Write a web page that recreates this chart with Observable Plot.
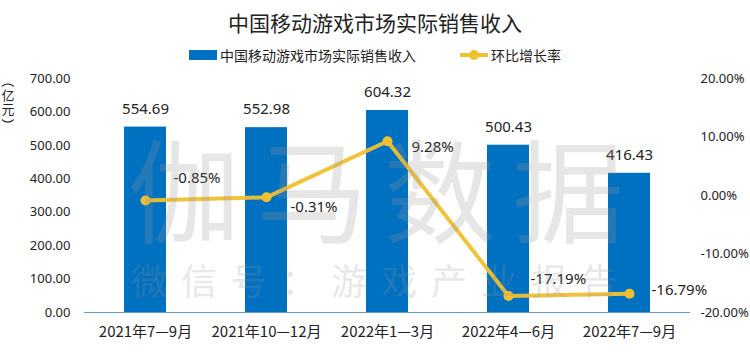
<!DOCTYPE html>
<html>
<head>
<meta charset="utf-8">
<script src="https://cdn.jsdelivr.net/npm/d3@7"></script>
<script src="https://cdn.jsdelivr.net/npm/@observablehq/plot@0.6"></script>
<style>
  html, body { margin:0; padding:0; background:#fff; }
  body { width:750px; height:355px; position:relative; overflow:hidden;
         font-family:"Noto Sans","Noto Sans CJK SC",sans-serif; color:#222; }
  #title { height:40px; line-height:44px; text-align:center; font-size:21px;
           font-family:"Noto Sans CJK SC",sans-serif; color:#222; }
  #legend { height:30px; display:flex; justify-content:center; align-items:center;
            font-size:14px; font-family:"Noto Sans CJK SC",sans-serif; color:#222; }
  .lg { display:flex; align-items:center; margin:0 22px; }
  .sw-bar { width:28px; height:10px; background:#0070C0; margin-right:3px; }
  .sw-line { width:28px; height:4px; background:#F0C030; position:relative; margin-right:3px; }
  .sw-line::after { content:""; position:absolute; left:9px; top:-3px; width:10px; height:10px; border-radius:50%; background:#F0C030; }
  .yc { position:absolute; left:1px; width:14px; height:14px; line-height:14px; text-align:center;
        font-size:13px; font-family:"Noto Sans CJK SC",sans-serif; color:#222; z-index:3; }
  .yc.rot { transform:rotate(90deg); }
  .wm { position:absolute; color:rgba(150,150,150,0.24); font-family:"Noto Sans CJK SC",sans-serif; white-space:nowrap; z-index:2; }
  #chart { position:relative; z-index:1; }
</style>
</head>
<body>
<div id="title">中国移动游戏市场实际销售收入</div>
<div id="legend">
  <div class="lg"><div class="sw-bar"></div><span id="lg1"></span></div>
  <div class="lg"><div class="sw-line"></div><span id="lg2"></span></div>
</div>
<div id="chart"></div>
<div class="wm" id="wm1" style="left:128px; top:116px; font-size:112px; letter-spacing:16px; line-height:140px;">伽马数据</div>
<div class="wm" id="wm2" style="left:131px; top:257px; font-size:36px; letter-spacing:14px; line-height:44px;">微信号：游戏产业报告</div>
<script>
const categories = ["2021年7—9月", "2021年10—12月", "2022年1—3月", "2022年4—6月", "2022年7—9月"];
const revenue = [554.69, 552.98, 604.32, 500.43, 416.43];
const growth = [-0.85, -0.31, 9.28, -17.19, -16.79];
const leftTicks = [0, 100, 200, 300, 400, 500, 600, 700];
const rightTicks = [-20, -10, 0, 10, 20];
const seriesNames = ["中国移动游戏市场实际销售收入", "环比增长率"];
const unitLabel = "（亿元）";

document.getElementById("lg1").textContent = seriesNames[0];
document.getElementById("lg2").textContent = seriesNames[1];
// vertical unit label: upright characters, parentheses turned
const yTops = [74, 88, 102, 118];
[...unitLabel].forEach((ch, k) => {
  const d = document.createElement("div");
  d.className = "yc" + (ch === "（" || ch === "）" ? " rot" : "");
  d.style.top = yTops[k] + "px";
  d.textContent = ch;
  document.body.appendChild(d);
});

const data = categories.map((c, i) => ({cat: c, rev: revenue[i], g: growth[i], i}));
// map the right-hand percentage axis onto the left value range
const pct2y = d3.scaleLinear([-20, 20], [0, 700]);

const BLUE = "#0070C0", GOLD = "#F0C030";
const pctText = d => d.g.toFixed(2) + "%";
const labelOffsets = [[28, -22], [24, 10], [24, 6], [22, -17], [22, -4]];

const chart = Plot.plot({
  width: 750,
  height: 285,
  marginTop: 8,
  marginBottom: 43,
  marginLeft: 84,
  marginRight: 60,
  style: {background: "transparent", fontSize: "13px", color: "#222",
          fontFamily: "\"Noto Sans\",\"Noto Sans CJK SC\",sans-serif"},
  x: {domain: categories, paddingInner: 0.65, paddingOuter: 0.325},
  y: {domain: [0, 700]},
  marks: [
    Plot.axisY(leftTicks, {anchor: "left", tickSize: 0, tickPadding: 14, label: null,
      tickFormat: d => d.toFixed(2), fontSize: 13}),
    Plot.axisY(rightTicks.map(t => pct2y(t)), {anchor: "right", tickSize: 0, tickPadding: 10, label: null,
      tickFormat: v => (Math.round(pct2y.invert(v) * 100) / 100 + 0).toFixed(2) + "%", fontSize: 13}),
    Plot.axisX({tickSize: 0, tickPadding: 14, label: null, fontSize: 15,
      fontFamily: "\"Noto Sans CJK SC\",sans-serif"}),
    Plot.barY(data, {x: "cat", y: "rev", fill: BLUE}),
    Plot.ruleY([0], {stroke: "#5B9BD5", strokeWidth: 1.2}),
    Plot.text(data, {x: "cat", y: "rev", text: d => d.rev.toFixed(2), dy: -18, fontSize: 15, fill: "#222"}),
    Plot.line(data, {x: "cat", y: d => pct2y(d.g), stroke: GOLD, strokeWidth: 4, strokeOpacity: 0.95}),
    Plot.dot(data, {x: "cat", y: d => pct2y(d.g), r: 5, fill: GOLD, stroke: null}),
    ...labelOffsets.map(([dx, dy], k) =>
      Plot.text(data.filter(d => d.i === k), {x: "cat", y: d => pct2y(d.g), text: pctText,
        textAnchor: "start", dx, dy, fontSize: 15, fill: "#222"}))
  ]
});
document.getElementById("chart").appendChild(chart);
</script>
</body>
</html>
